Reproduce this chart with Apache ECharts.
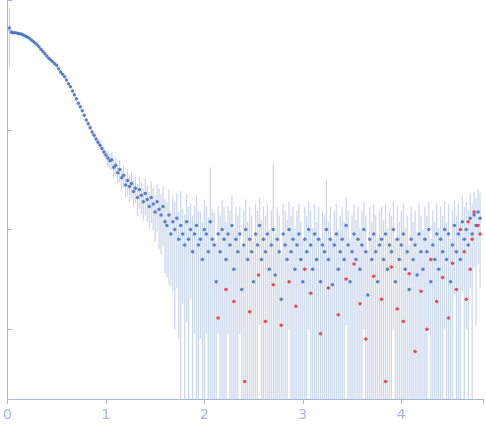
<!DOCTYPE html>
<html>
<head>
<meta charset="utf-8"/>
<script src="https://cdn.jsdelivr.net/npm/echarts@6/dist/echarts.min.js"></script>
</head>
<body style="margin:0">
<div id="main" style="width:486px;height:437px"></div>
<script type="text/javascript">
// low-q part: smooth curve
var qLow = [0.02,0.04,0.06,0.08,0.10,0.12,0.14,0.16,0.18,0.20,0.22,0.24,0.26,0.28,0.30,0.32,0.34,0.36,0.38,0.40,
  0.42,0.44,0.46,0.48,0.50,0.52,0.54,0.56,0.58,0.60,0.62,0.64,0.66,0.68,0.70,0.72,0.74,0.76,0.78,0.80,
  0.82,0.84,0.86,0.88,0.90,0.92,0.94,0.96,0.98,1.00];
var iLow = [1.05,0.95,0.94,0.94,0.93,0.92,0.91,0.89,0.87,0.85,0.83,0.80,0.77,0.74,0.71,0.68,0.64,0.61,0.58,0.55,
  0.52,0.50,0.48,0.46,0.44,0.41,0.38,0.36,0.34,0.315,0.29,0.27,0.245,0.225,0.205,0.185,0.17,0.155,0.14,0.125,
  0.115,0.105,0.095,0.088,0.081,0.075,0.07,0.065,0.06,0.056];
var eLow = [0.6,0.05,0.03,0.02,0.02,0.02,0.02,0.02,0.02,0.02,0.02,0.02,0.02,0.02,0.02,0.02,0.02,0.02,0.02,0.02,
  0.02,0.02,0.02,0.02,0.02,0.02,0.03,0.03,0.03,0.03,0.03,0.03,0.04,0.04,0.04,0.04,0.05,0.05,0.05,0.05,
  0.06,0.06,0.07,0.07,0.08,0.08,0.09,0.09,0.1,0.1];
// high-q part (intensity in units of 1e-3)
var qHigh = [1.02,1.04,1.06,1.08,1.10,1.12,1.14,1.16,1.18,1.20,1.22,1.24,1.26,1.28,1.30,1.32,1.34,1.36,1.38,1.40,
  1.42,1.44,1.46,1.48,1.50,1.52,1.54,1.56,1.58,1.60,1.62,1.64,1.66,1.68,1.70,1.72,1.74,1.76,1.78,1.80,
  1.82,1.84,1.86,1.88,1.90,1.92,1.94,1.96,1.98,2.00,2.02,2.04,2.06,2.08,2.10,2.12,2.14,2.16,2.18,2.20,
  2.22,2.24,2.26,2.28,2.30,2.32,2.34,2.36,2.38,2.40,2.42,2.44,2.46,2.48,2.50,2.52,2.54,2.56,2.58,2.60,
  2.62,2.64,2.66,2.68,2.70,2.72,2.74,2.76,2.78,2.80,2.82,2.84,2.86,2.88,2.90,2.92,2.94,2.96,2.98,3.00,
  3.02,3.04,3.06,3.08,3.10,3.12,3.14,3.16,3.18,3.20,3.22,3.24,3.26,3.28,3.30,3.32,3.34,3.36,3.38,3.40,
  3.42,3.44,3.46,3.48,3.50,3.52,3.54,3.56,3.58,3.60,3.62,3.64,3.66,3.68,3.70,3.72,3.74,3.76,3.78,3.80,
  3.82,3.84,3.86,3.88,3.90,3.92,3.94,3.96,3.98,4.00,4.02,4.04,4.06,4.08,4.10,4.12,4.14,4.16,4.18,4.20,
  4.22,4.24,4.26,4.28,4.30,4.32,4.34,4.36,4.38,4.40,4.42,4.44,4.46,4.48,4.50,4.52,4.54,4.56,4.58,4.60,
  4.62,4.64,4.66,4.68,4.70,4.72,4.74,4.76,4.78,4.80];
var iHigh = [52,49,50,42,44,37,40,33,35,28,31,27,29,24,26,21,25,22,19,23,
  20,17,21,18,15,19,16,14,17,12,11,14,9,12,10,13,8,11,9,7,
  12,8,10,6,9,11,7,8,5,10,9,6,12,8,7,3,9,6,10,8,
  5,9,7,11,4,8,6,9,2.5,7,10,5,8,6,3,9,7,11,5,8,
  6,9,4,7,10,3.5,8,6,2,9,7,5,10,6,8,4,7,9,5,3,
  8,6,10,7,4,9,5,8,3,7,6,10,5,8,2.8,7,9,4,6,8,
  5,11,7,3,6,9,5,8,4,7,10,6,2.2,8,5,9,6,3,7,8,
  5,9,4,7,6,10,3,8,5,7,9,4,6,2.5,8,5,7,3.5,9,6,
  4,8,6,10,3,7,5,9,4,8,6,10,5,9,3,7,11,6,9,5,
  12,8,10,7,13,9,14,11,15,13];
var eHigh = [0.2,0.2,0.2,0.2,0.2,0.2,0.25,0.25,0.25,0.25,0.3,0.3,0.3,0.3,0.3,0.35,0.35,0.35,0.35,0.4,
  0.4,0.4,0.45,0.45,0.5,0.5,0.6,0.6,0.6,0.7,0.7,0.8,0.7,0.8,0.9,0.8,0.9,1.2,0.8,1.0,
  0.9,1.1,0.8,1.3,0.9,1.0,1.2,0.9,1.4,1.0,0.9,1.2,2.5,1.0,1.1,1.5,0.9,1.3,1.0,1.1,
  1.4,0.9,1.2,1.0,1.6,1.1,1.3,0.9,1.7,1.2,1.0,1.4,1.1,1.3,1.6,1.0,1.2,0.9,1.5,1.1,
  1.3,1.0,1.5,1.2,3.5,1.6,1.1,1.3,1.8,1.0,1.2,1.5,0.9,1.3,1.1,1.6,1.2,1.0,1.4,1.7,
  1.1,1.3,0.9,1.2,1.6,1.0,1.4,1.1,1.7,1.2,1.3,2.2,1.4,1.1,1.8,1.2,1.0,1.5,1.3,1.1,
  1.4,0.9,1.2,1.7,1.3,1.0,1.5,1.1,1.6,1.2,0.9,1.3,1.8,1.1,1.4,1.0,1.3,1.7,1.2,1.1,
  1.5,1.0,1.6,1.2,1.3,0.9,1.7,1.1,1.4,1.2,1.0,1.6,1.3,1.8,1.1,1.4,1.2,1.6,1.0,1.3,
  1.5,1.1,1.3,0.9,1.7,1.2,1.4,1.0,1.6,1.1,1.3,0.9,1.4,1.0,1.7,1.2,0.8,1.3,1.0,1.4,
  0.8,1.1,0.9,1.2,0.8,1.0,0.7,0.9,0.7,0.8];
// outlier points (red), intensity in units of 1e-3
var qRed = [2.14,2.22,2.30,2.41,2.46,2.55,2.62,2.70,2.78,2.86,2.93,3.02,3.08,3.18,3.26,3.36,3.44,3.52,3.58,3.64,
  3.72,3.80,3.84,3.90,3.96,4.02,4.08,4.14,4.20,4.26,4.30,4.36,4.42,4.48,4.52,4.56,4.60,4.64,4.68,4.72,
  4.74,4.78,4.80,4.70,4.66];
var iRed = [1.3,2.5,1.9,0.3,1.5,3.5,1.2,2.8,1.1,3.0,1.7,4.0,2.3,0.9,2.6,1.4,3.2,4.5,1.8,0.8,
  3.4,2.0,0.3,4.2,1.6,1.2,3.6,0.6,2.4,1.0,5.0,1.9,3.3,1.3,4.6,2.5,10,6,12,8,
  15,11,9,4,2];

var band = [], blue = [], red = [];
qLow.forEach(function (q, i) {
  band.push([q, iLow[i] * (1 - eLow[i]), iLow[i] * (1 + eLow[i])]);
  blue.push([q, iLow[i]]);
});
qHigh.forEach(function (q, i) {
  var v = iHigh[i] * 1e-3;
  band.push([q, Math.max(v * (1 - eHigh[i]), 0.0002), v * (1 + eHigh[i])]);
  blue.push([q, v]);
});
qRed.forEach(function (q, i) { red.push([q, iRed[i] * 1e-3]); });

var myChart = echarts.init(document.getElementById('main'));
var axisColor = '#a5b7de';
myChart.setOption({
  animation: false,
  grid: {left: 5, right: 0, top: 0, bottom: 38},
  xAxis: {
    type: 'value', min: 0, max: 4.83, interval: 1,
    axisLine: {lineStyle: {color: axisColor}},
    axisTick: {lineStyle: {color: axisColor}, length: 5},
    axisLabel: {color: axisColor, fontSize: 14, fontFamily: 'DejaVu Sans', margin: 9,
      formatter: function (v) { return v > 4.5 ? '' : v; }},
    splitLine: {show: false}
  },
  yAxis: {
    type: 'log', min: 0.0002, max: 2,
    axisLine: {show: true, lineStyle: {color: axisColor}},
    axisTick: {show: true, inside: true, lineStyle: {color: axisColor}, length: 5},
    axisLabel: {show: false},
    splitLine: {show: false}
  },
  series: [
    {
      type: 'custom',
      data: band,
      renderItem: function (params, api) {
        var p1 = api.coord([api.value(0), api.value(1)]);
        var p2 = api.coord([api.value(0), api.value(2)]);
        return {type: 'line', shape: {x1: p1[0], y1: p1[1], x2: p2[0], y2: p2[1]},
          style: {stroke: '#c9d6ec', lineWidth: 1.2}};
      },
      clip: true, z: 1
    },
    {type: 'scatter', data: blue, symbolSize: 3.5, itemStyle: {color: '#3b68be'}, z: 3},
    {type: 'scatter', data: red, symbolSize: 3.5, itemStyle: {color: '#e8262a'}, z: 4}
  ]
});
</script>
</body>
</html>
